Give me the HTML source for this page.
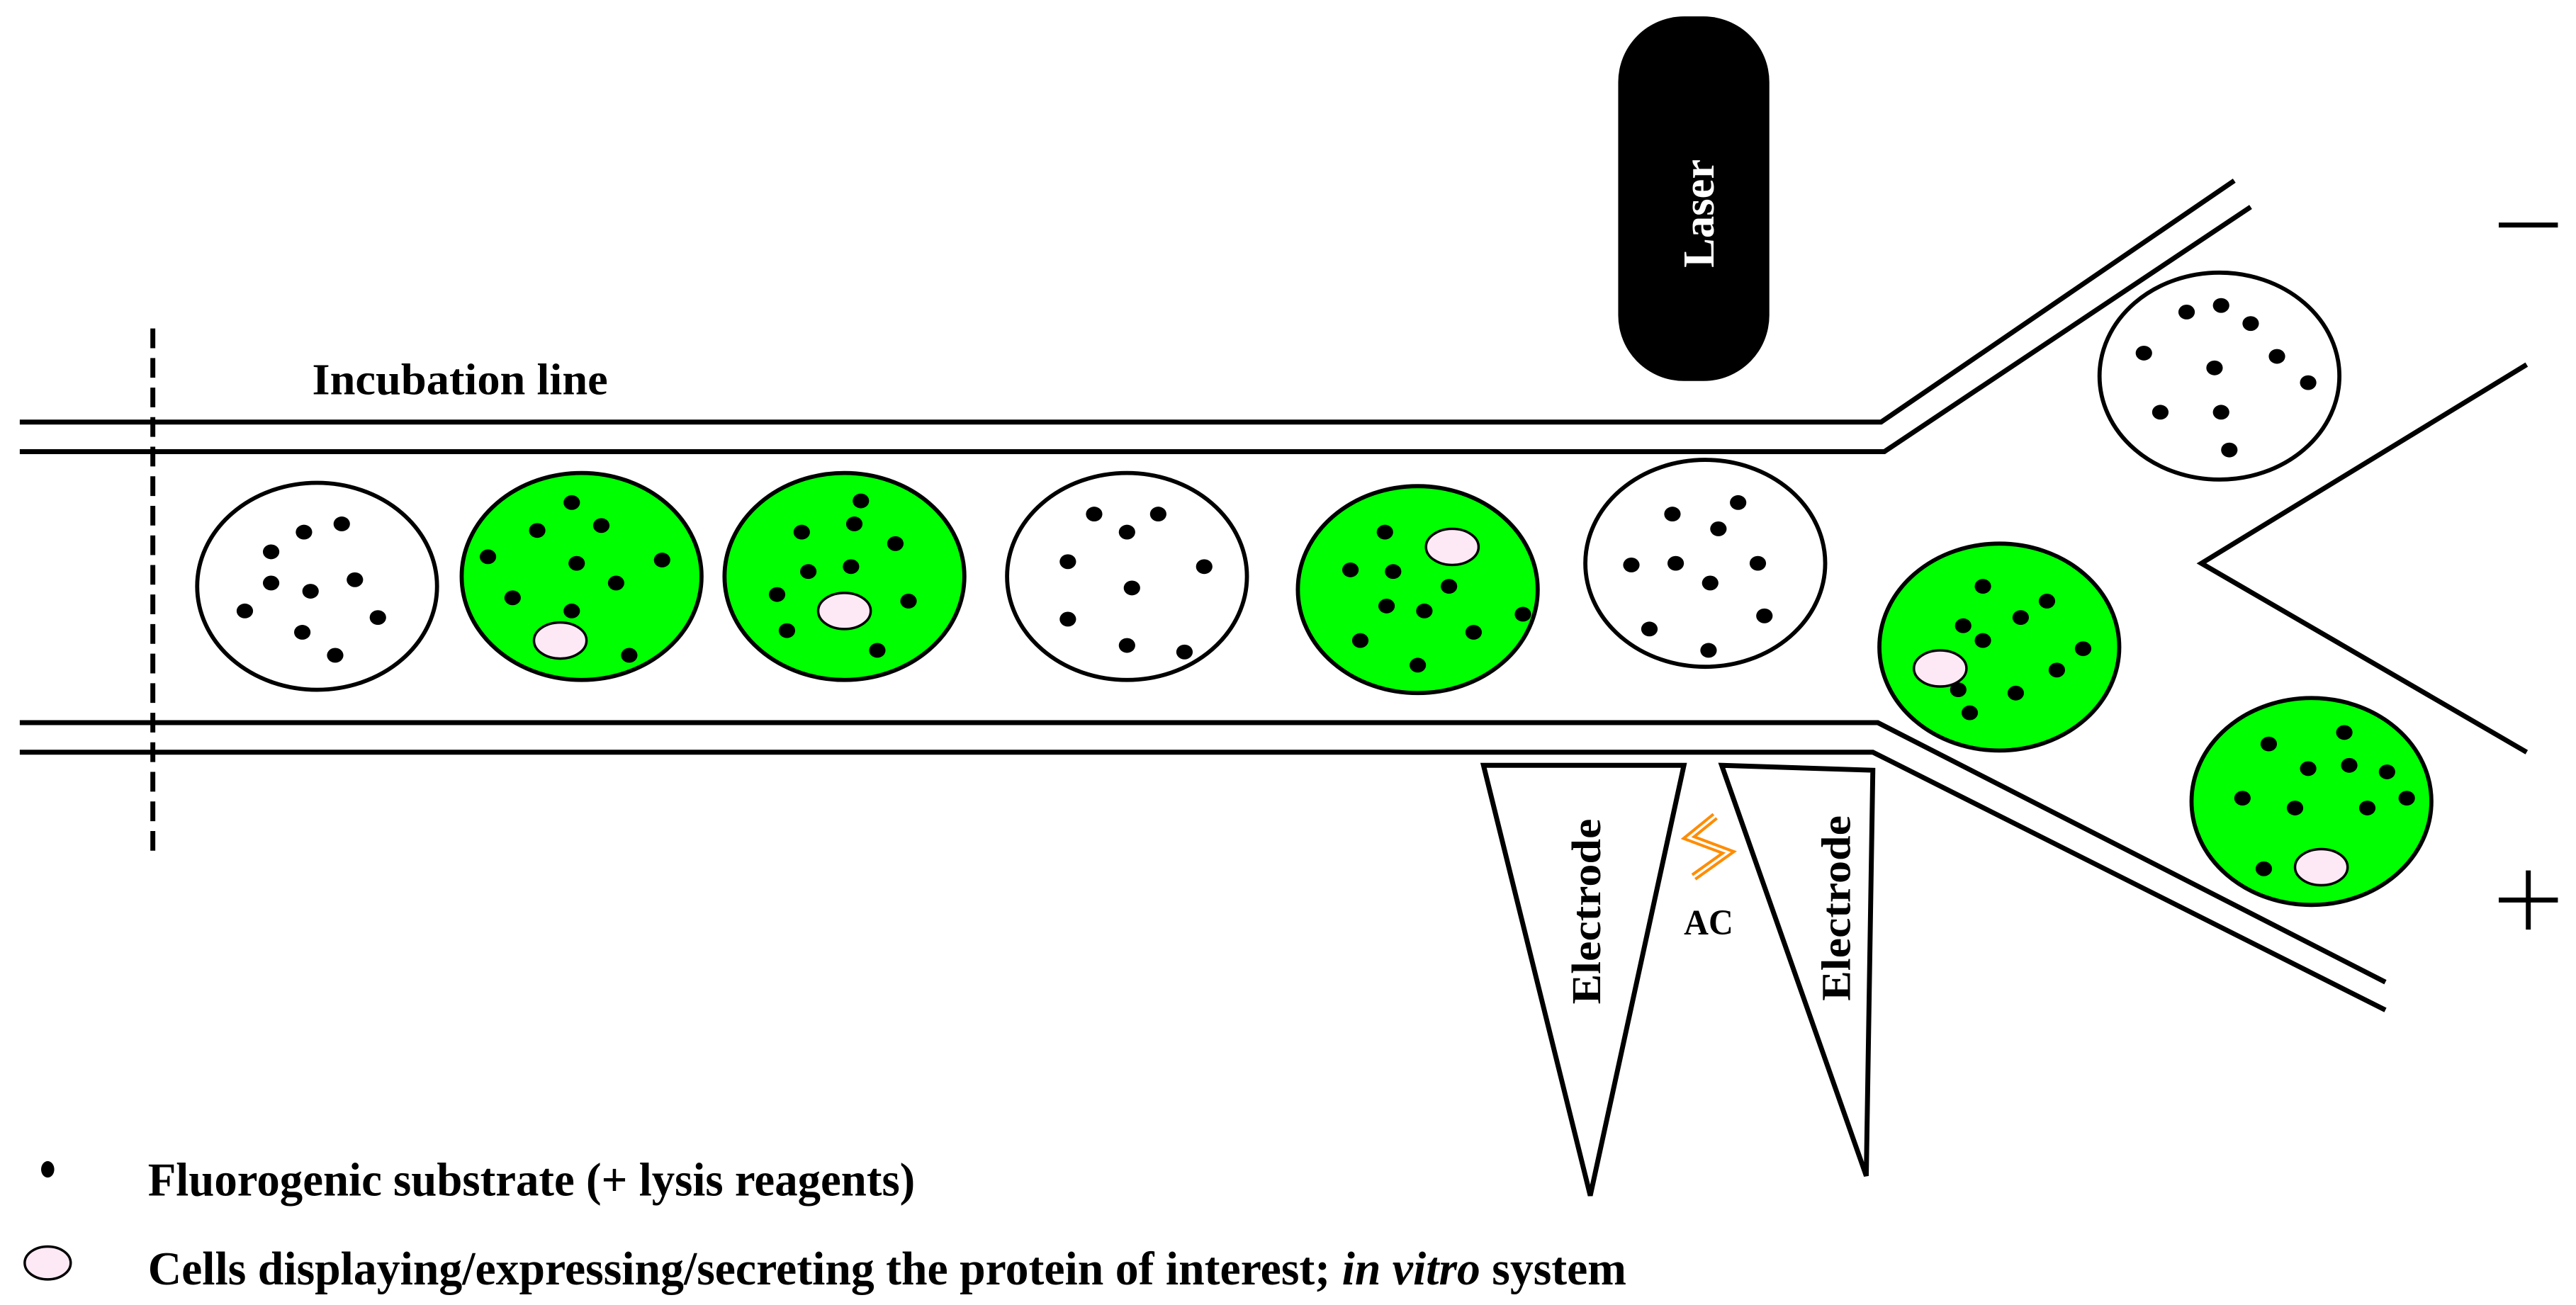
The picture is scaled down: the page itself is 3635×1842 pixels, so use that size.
<!DOCTYPE html>
<html><head><meta charset="utf-8"><style>
html,body{margin:0;padding:0;background:#fff;}
svg{display:block;}
text{font-family:"Liberation Serif",serif;font-weight:bold;}
</style></head><body>
<svg width="3635" height="1842" viewBox="0 0 1568 794.6" xmlns="http://www.w3.org/2000/svg">
<rect width="1568" height="795" fill="#fff"/>
<g stroke="#000" stroke-width="3" fill="none">
<polyline points="12,257 1145,257 1360,110"/>
<polyline points="12,275 1147,275 1370,126"/>
<polyline points="12,440 1143,440 1452,598"/>
<polyline points="12,458 1140,458 1452,615"/>
<polyline points="1538,222 1340,343 1538,458"/>
<line x1="93" y1="200" x2="93" y2="520" stroke-dasharray="12,6"/>
<line x1="1521" y1="137" x2="1557" y2="137"/>
<line x1="1521" y1="548" x2="1557" y2="548"/>
<line x1="1539" y1="530" x2="1539" y2="566"/>
<polygon points="903,466 1025,466 968,728" fill="#fff"/>
<polygon points="1048,466 1140,469 1136,716" fill="#fff"/>
</g>
<rect x="985" y="10" width="92" height="222" rx="40" fill="#000"/>
<text transform="translate(1043,130) rotate(-90)" text-anchor="middle" fill="#fff" font-size="27">Laser</text>
<text x="190" y="240" font-size="27" textLength="180" lengthAdjust="spacingAndGlyphs">Incubation line</text>
<text transform="translate(974,555) rotate(-90)" text-anchor="middle" font-size="25" textLength="113" lengthAdjust="spacingAndGlyphs">Electrode</text>
<text transform="translate(1126,553) rotate(-90)" text-anchor="middle" font-size="25" textLength="113" lengthAdjust="spacingAndGlyphs">Electrode</text>
<polyline points="1044,497 1028,510 1052,519 1031,534" fill="none" stroke="#ff8c00" stroke-width="5"/>
<polyline points="1044,497 1028,510 1052,519 1031,534" fill="none" stroke="#fff" stroke-width="1.5"/>
<text x="1040" y="569" text-anchor="middle" font-size="22" textLength="30" lengthAdjust="spacingAndGlyphs">AC</text>
<g stroke="#000" stroke-width="2.5">
<ellipse cx="193" cy="357" rx="73" ry="63" fill="#fff"/>
<ellipse cx="354" cy="351" rx="73" ry="63" fill="#00ff00"/>
<ellipse cx="514" cy="351" rx="73" ry="63" fill="#00ff00"/>
<ellipse cx="686" cy="351" rx="73" ry="63" fill="#fff"/>
<ellipse cx="863" cy="359" rx="73" ry="63" fill="#00ff00"/>
<ellipse cx="1038" cy="343" rx="73" ry="63" fill="#fff"/>
<ellipse cx="1217" cy="394" rx="73" ry="63" fill="#00ff00"/>
<ellipse cx="1351" cy="229" rx="73" ry="63" fill="#fff"/>
<ellipse cx="1407" cy="488" rx="73" ry="63" fill="#00ff00"/>
</g>
<g fill="#000">
<ellipse cx="29" cy="712" rx="4" ry="5"/>
<ellipse cx="185" cy="324" rx="5" ry="4.5"/><ellipse cx="208" cy="319" rx="5" ry="4.5"/><ellipse cx="165" cy="336" rx="5" ry="4.5"/><ellipse cx="165" cy="355" rx="5" ry="4.5"/><ellipse cx="189" cy="360" rx="5" ry="4.5"/><ellipse cx="216" cy="353" rx="5" ry="4.5"/><ellipse cx="149" cy="372" rx="5" ry="4.5"/><ellipse cx="184" cy="385" rx="5" ry="4.5"/><ellipse cx="230" cy="376" rx="5" ry="4.5"/><ellipse cx="204" cy="399" rx="5" ry="4.5"/>
<ellipse cx="348" cy="306" rx="5" ry="4.5"/><ellipse cx="327" cy="323" rx="5" ry="4.5"/><ellipse cx="366" cy="320" rx="5" ry="4.5"/><ellipse cx="297" cy="339" rx="5" ry="4.5"/><ellipse cx="351" cy="343" rx="5" ry="4.5"/><ellipse cx="375" cy="355" rx="5" ry="4.5"/><ellipse cx="403" cy="341" rx="5" ry="4.5"/><ellipse cx="312" cy="364" rx="5" ry="4.5"/><ellipse cx="348" cy="372" rx="5" ry="4.5"/><ellipse cx="383" cy="399" rx="5" ry="4.5"/>
<ellipse cx="524" cy="305" rx="5" ry="4.5"/><ellipse cx="488" cy="324" rx="5" ry="4.5"/><ellipse cx="520" cy="319" rx="5" ry="4.5"/><ellipse cx="545" cy="331" rx="5" ry="4.5"/><ellipse cx="492" cy="348" rx="5" ry="4.5"/><ellipse cx="518" cy="345" rx="5" ry="4.5"/><ellipse cx="473" cy="362" rx="5" ry="4.5"/><ellipse cx="553" cy="366" rx="5" ry="4.5"/><ellipse cx="479" cy="384" rx="5" ry="4.5"/><ellipse cx="534" cy="396" rx="5" ry="4.5"/>
<ellipse cx="666" cy="313" rx="5" ry="4.5"/><ellipse cx="705" cy="313" rx="5" ry="4.5"/><ellipse cx="686" cy="324" rx="5" ry="4.5"/><ellipse cx="650" cy="342" rx="5" ry="4.5"/><ellipse cx="733" cy="345" rx="5" ry="4.5"/><ellipse cx="689" cy="358" rx="5" ry="4.5"/><ellipse cx="650" cy="377" rx="5" ry="4.5"/><ellipse cx="686" cy="393" rx="5" ry="4.5"/><ellipse cx="721" cy="397" rx="5" ry="4.5"/>
<ellipse cx="843" cy="324" rx="5" ry="4.5"/><ellipse cx="822" cy="347" rx="5" ry="4.5"/><ellipse cx="848" cy="348" rx="5" ry="4.5"/><ellipse cx="882" cy="357" rx="5" ry="4.5"/><ellipse cx="844" cy="369" rx="5" ry="4.5"/><ellipse cx="867" cy="372" rx="5" ry="4.5"/><ellipse cx="927" cy="374" rx="5" ry="4.5"/><ellipse cx="828" cy="390" rx="5" ry="4.5"/><ellipse cx="897" cy="385" rx="5" ry="4.5"/><ellipse cx="863" cy="405" rx="5" ry="4.5"/>
<ellipse cx="1018" cy="313" rx="5" ry="4.5"/><ellipse cx="1058" cy="306" rx="5" ry="4.5"/><ellipse cx="1046" cy="322" rx="5" ry="4.5"/><ellipse cx="993" cy="344" rx="5" ry="4.5"/><ellipse cx="1020" cy="343" rx="5" ry="4.5"/><ellipse cx="1070" cy="343" rx="5" ry="4.5"/><ellipse cx="1041" cy="355" rx="5" ry="4.5"/><ellipse cx="1004" cy="383" rx="5" ry="4.5"/><ellipse cx="1074" cy="375" rx="5" ry="4.5"/><ellipse cx="1040" cy="396" rx="5" ry="4.5"/>
<ellipse cx="1207" cy="357" rx="5" ry="4.5"/><ellipse cx="1246" cy="366" rx="5" ry="4.5"/><ellipse cx="1195" cy="381" rx="5" ry="4.5"/><ellipse cx="1230" cy="376" rx="5" ry="4.5"/><ellipse cx="1207" cy="390" rx="5" ry="4.5"/><ellipse cx="1268" cy="395" rx="5" ry="4.5"/><ellipse cx="1192" cy="420" rx="5" ry="4.5"/><ellipse cx="1252" cy="408" rx="5" ry="4.5"/><ellipse cx="1227" cy="422" rx="5" ry="4.5"/><ellipse cx="1199" cy="434" rx="5" ry="4.5"/>
<ellipse cx="1331" cy="190" rx="5" ry="4.5"/><ellipse cx="1352" cy="186" rx="5" ry="4.5"/><ellipse cx="1370" cy="197" rx="5" ry="4.5"/><ellipse cx="1305" cy="215" rx="5" ry="4.5"/><ellipse cx="1348" cy="224" rx="5" ry="4.5"/><ellipse cx="1386" cy="217" rx="5" ry="4.5"/><ellipse cx="1405" cy="233" rx="5" ry="4.5"/><ellipse cx="1315" cy="251" rx="5" ry="4.5"/><ellipse cx="1352" cy="251" rx="5" ry="4.5"/><ellipse cx="1357" cy="274" rx="5" ry="4.5"/>
<ellipse cx="1381" cy="453" rx="5" ry="4.5"/><ellipse cx="1427" cy="446" rx="5" ry="4.5"/><ellipse cx="1405" cy="468" rx="5" ry="4.5"/><ellipse cx="1430" cy="466" rx="5" ry="4.5"/><ellipse cx="1453" cy="470" rx="5" ry="4.5"/><ellipse cx="1365" cy="486" rx="5" ry="4.5"/><ellipse cx="1397" cy="492" rx="5" ry="4.5"/><ellipse cx="1441" cy="492" rx="5" ry="4.5"/><ellipse cx="1465" cy="486" rx="5" ry="4.5"/><ellipse cx="1378" cy="529" rx="5" ry="4.5"/>
</g>
<g fill="#fde9f6" stroke="#000" stroke-width="1.5">
<ellipse cx="341" cy="390" rx="16" ry="11"/>
<ellipse cx="514" cy="372" rx="16" ry="11"/>
<ellipse cx="884" cy="333" rx="16" ry="11"/>
<ellipse cx="1181" cy="407" rx="16" ry="11"/>
<ellipse cx="1413" cy="528" rx="16" ry="11"/>
<ellipse cx="29" cy="769" rx="14" ry="10"/>
</g>
<text x="90" y="728" font-size="29" textLength="467" lengthAdjust="spacingAndGlyphs">Fluorogenic substrate (+ lysis reagents)</text>
<text x="90" y="782" font-size="29" textLength="900" lengthAdjust="spacingAndGlyphs">Cells displaying/expressing/secreting the protein of interest; <tspan font-style="italic">in vitro</tspan> system</text>
</svg>
</body></html>
